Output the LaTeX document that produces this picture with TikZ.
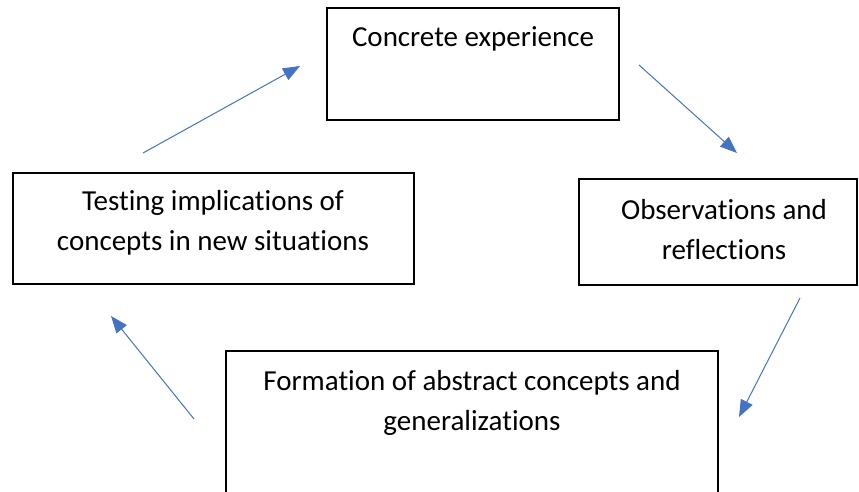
\documentclass[tikz,border=0pt]{standalone}
\usepackage{fontspec}
\setmainfont{Carlito}[Ligatures=NoCommon]
\usetikzlibrary{arrows.meta}

\tikzset{
  stage/.style={draw=black, line width=1.2pt, rectangle, inner sep=0pt},
  stagetext/.style={font=\fontsize{29}{40}\selectfont, align=center, inner sep=0pt, anchor=base},
  flow/.style={color={rgb, 255:red, 68; green, 114; blue, 196}, line width=1pt, -{Triangle[length=17pt,width=13pt]}}
}

\begin{document}
\begin{tikzpicture}[x=1pt,y=1pt,yscale=-1,xscale=1]
\useasboundingbox (0,0) rectangle (859,492);

% Boxes
\node (concrete) [stage, minimum width=292pt, minimum height=112pt] at (473,64) {};
\node (observe) [stage, minimum width=278pt, minimum height=106pt] at (718,232) {};
\node (testing) [stage, minimum width=401pt, minimum height=111pt] at (213.5,228.5) {};
\node (formation) [stage, minimum width=492pt, minimum height=160pt] at (472,431) {};

% Text Node
\node (concretetxt) [stagetext] at (473,47) {Concrete experience};
% Text Node
\node (observetxt) [stagetext] at (724,259) {Observations and\\reflections};
% Text Node
\node (testingtxt) [stagetext] at (213,250) {Testing implications of\\concepts in new situations};
% Text Node
\node (formationtxt) [stagetext] at (472,430) {Formation of abstract concepts and\\generalizations};

% Arrows
\coordinate (a1s) at (143,153);
\coordinate (a1e) at (300,66);
\coordinate (a2s) at (639,65);
\coordinate (a2e) at (737,153);
\coordinate (a3s) at (800,298);
\coordinate (a3e) at (739,417);
\coordinate (a4s) at (194,419);
\coordinate (a4e) at (111,316);
\draw [flow] (a1s) -- (a1e);
\draw [flow] (a2s) -- (a2e);
\draw [flow] (a3s) -- (a3e);
\draw [flow] (a4s) -- (a4e);
\end{tikzpicture}
\end{document}
